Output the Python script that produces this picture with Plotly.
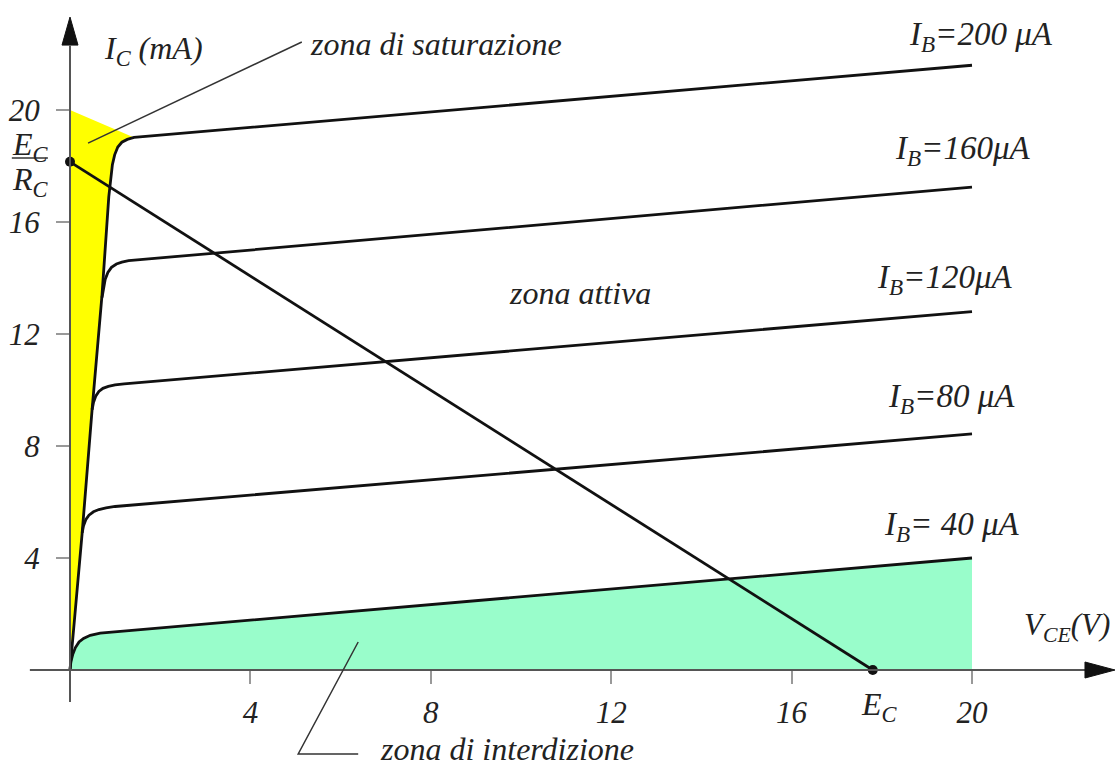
import plotly.graph_objects as go

# Output characteristics of a BJT in common-emitter configuration
# V_CE in volts, I_C in mA, one curve per base current
vce_200 = [0, 0.27, 0.49, 0.71, 0.86, 0.90, 0.94, 0.99, 1.06, 1.15, 1.27, 1.42, 20]
ic_200 = [0, 4.9, 9.3, 13.4, 16.9, 17.6, 18.05, 18.4, 18.68, 18.85, 18.95, 19.02, 21.6]
vce_160 = [0.71, 0.74, 0.78, 0.84, 0.92, 1.03, 1.15, 1.30, 20]
ic_160 = [13.3, 13.65, 13.95, 14.2, 14.38, 14.5, 14.57, 14.62, 17.25]
vce_120 = [0.49, 0.52, 0.57, 0.64, 0.73, 0.85, 1.0, 1.2, 20]
ic_120 = [9.3, 9.55, 9.78, 9.95, 10.06, 10.13, 10.18, 10.22, 12.8]
vce_80 = [0.27, 0.30, 0.35, 0.42, 0.52, 0.64, 0.80, 1.0, 20]
ic_80 = [4.9, 5.15, 5.37, 5.53, 5.65, 5.73, 5.79, 5.84, 8.43]
vce_40 = [0, 0.02, 0.06, 0.12, 0.20, 0.30, 0.45, 0.67, 20]
ic_40 = [0, 0.3, 0.55, 0.8, 1.0, 1.13, 1.24, 1.32, 4.0]

# Load line: E_C on the V_CE axis, E_C/R_C on the I_C axis
ec = 17.8
ec_rc = 18.15

# Upper corner of the saturation region on the I_C axis
sat_top = 20

x_ticks = [4, 8, 12, 16, 20]
y_ticks = [4, 8, 12, 16, 20]

FONT = "Liberation Serif"
BLACK = "#111111"
AXIS = "#555555"
TEXT = "#222222"

fig = go.Figure()

# saturation region (yellow): between the I_C axis and the I_B = 200 uA rise
sat_x = [0, 0] + vce_200[:-1][::-1]
sat_y = [0, sat_top] + ic_200[:-1][::-1]
fig.add_trace(go.Scatter(x=sat_x, y=sat_y, mode="lines", fill="toself",
                         fillcolor="#ffff00", line=dict(width=0),
                         hoverinfo="skip", showlegend=False))

# cut-off region (green) under the I_B = 40 uA curve
fig.add_trace(go.Scatter(x=vce_40, y=ic_40, mode="lines", fill="tozeroy",
                         fillcolor="#99fdcb", line=dict(width=0),
                         hoverinfo="skip", showlegend=False))

for vx, iy in [(vce_200, ic_200), (vce_160, ic_160), (vce_120, ic_120),
               (vce_80, ic_80), (vce_40, ic_40)]:
    fig.add_trace(go.Scatter(x=vx, y=iy, mode="lines",
                             line=dict(color=BLACK, width=2.8),
                             hoverinfo="skip", showlegend=False))

# load line
fig.add_trace(go.Scatter(x=[0, ec], y=[ec_rc, 0], mode="lines+markers",
                         line=dict(color=BLACK, width=2.8),
                         marker=dict(color=BLACK, size=10),
                         hoverinfo="skip", showlegend=False))

shapes = [
    # V_CE axis with arrow head
    dict(type="line", x0=-0.89, x1=22.6, y0=0, y1=0,
         line=dict(color=AXIS, width=2), layer="above"),
    dict(type="path", xref="x", yref="y", xsizemode="pixel", ysizemode="pixel",
         xanchor=23.17, yanchor=0, path="M0,0 L-30,-8 L-30,8 Z",
         fillcolor=BLACK, line=dict(color=BLACK, width=1), layer="above"),
    # I_C axis with arrow head
    dict(type="line", x0=0, x1=0, y0=-1.14, y1=22.3,
         line=dict(color=AXIS, width=2), layer="above"),
    dict(type="path", xref="x", yref="y", xsizemode="pixel", ysizemode="pixel",
         xanchor=0, yanchor=23.32, path="M0,0 L-8,-28 L8,-28 Z",
         fillcolor=BLACK, line=dict(color=BLACK, width=1), layer="above"),
    # leader for the saturation label
    dict(type="line", x0=5.14, y0=22.43, x1=0.40, y1=18.82,
         line=dict(color="#333333", width=1.5), layer="above"),
    # leader for the cut-off label
    dict(type="path", path="M6.39,1.0 L5.06,-3.0 L6.39,-3.0",
         line=dict(color="#333333", width=1.5), layer="above"),
    # fraction bar of E_C / R_C
    dict(type="line", x0=-1.29, x1=-0.49, y0=18.29, y1=18.29,
         line=dict(color="#333333", width=1.5), layer="above"),
]


def label(text, x, y, xanchor="left", yanchor="middle", size=32):
    return dict(text="<i>" + text + "</i>", x=x, y=y, xref="x", yref="y",
                xanchor=xanchor, yanchor=yanchor, showarrow=False,
                font=dict(family=FONT, size=size, color=TEXT))


annotations = [
    label("I<sub>C</sub> (mA)", 0.70, 22.14),
    label("zona di saturazione", 5.28, 22.36),
    label("zona attiva", 11.31, 13.46, xanchor="center"),
    label("zona di interdizione", 6.83, -3.536, yanchor="bottom"),
    label("I<sub>B</sub>=200 \u03bcA", 18.55, 22.64, size=33),
    label("I<sub>B</sub>=160\u03bcA", 18.25, 18.57, size=33),
    label("I<sub>B</sub>=120\u03bcA", 17.85, 13.93, size=33),
    label("I<sub>B</sub>=80 \u03bcA", 18.1, 9.71, size=33),
    label("I<sub>B</sub>= 40 \u03bcA", 18.0, 5.14, size=33),
    label("V<sub>CE</sub>(V)", 23.1, 1.54, xanchor="right", size=31),
    label("E<sub>C</sub>", 17.5, -1.32),
    label("E<sub>C</sub>", -1.32, 18.71),
    label("R<sub>C</sub>", -1.32, 17.43),
]

fig.update_layout(
    width=1117, height=769,
    margin=dict(l=0, r=0, t=0, b=0),
    paper_bgcolor="white", plot_bgcolor="white",
    shapes=shapes, annotations=annotations,
    xaxis=dict(range=[-1.552, 23.215], showgrid=False, zeroline=False,
               showline=False, anchor="free", position=0.12874,
               tickmode="array", tickvals=x_ticks,
               ticktext=["<i>%d</i>" % v for v in x_ticks],
               ticks="outside", ticklen=13, tickwidth=1.5, tickcolor="#999999",
               ticklabelstandoff=2,
               tickfont=dict(family=FONT, size=31, color=TEXT)),
    yaxis=dict(range=[-3.536, 23.93], showgrid=False, zeroline=False,
               showline=False, anchor="free", position=0.062668,
               tickmode="array", tickvals=y_ticks,
               ticktext=["<i>%d</i>" % v for v in y_ticks],
               ticks="outside", ticklen=14, tickwidth=1.5, tickcolor="#999999",
               ticklabelstandoff=10,
               tickfont=dict(family=FONT, size=31, color=TEXT)),
)

fig.write_html("out.html")
